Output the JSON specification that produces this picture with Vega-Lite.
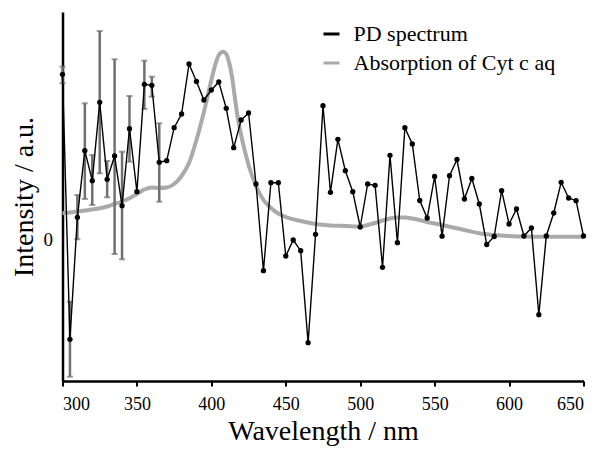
{
  "$schema": "https://vega.github.io/schema/vega-lite/v6.json",
  "autosize": {"type": "none"},
  "width": 521,
  "height": 369,
  "padding": {"left": 62.5, "top": 12, "right": 19.5, "bottom": 68},
  "config": {
    "view": {"stroke": null},
    "font": "Liberation Serif",
    "axis": {"grid": false, "labelFont": "Liberation Serif", "titleFont": "Liberation Serif", "titleFontWeight": "normal", "labelColor": "#000", "titleColor": "#000", "domainColor": "#000", "domainWidth": 2.5, "tickColor": "#000"},
    "legend": {"labelFont": "Liberation Serif"}
  },
  "datasets": {
    "pd": [
      {"wl": 300, "v": 1.65}, {"wl": 305, "v": -1.0}, {"wl": 310, "v": 0.22}, {"wl": 315, "v": 0.886},
      {"wl": 320, "v": 0.586}, {"wl": 325, "v": 1.37}, {"wl": 330, "v": 0.6}, {"wl": 335, "v": 0.833},
      {"wl": 340, "v": 0.336}, {"wl": 345, "v": 1.106}, {"wl": 350, "v": 0.476}, {"wl": 355, "v": 1.55},
      {"wl": 360, "v": 1.54}, {"wl": 365, "v": 0.77}, {"wl": 370, "v": 0.786}, {"wl": 375, "v": 1.116},
      {"wl": 380, "v": 1.253}, {"wl": 385, "v": 1.753}, {"wl": 390, "v": 1.578}, {"wl": 395, "v": 1.393},
      {"wl": 400, "v": 1.493}, {"wl": 405, "v": 1.573}, {"wl": 410, "v": 1.31}, {"wl": 415, "v": 0.916},
      {"wl": 420, "v": 1.193}, {"wl": 425, "v": 1.263}, {"wl": 430, "v": 0.553}, {"wl": 435, "v": -0.314},
      {"wl": 440, "v": 0.566}, {"wl": 445, "v": 0.566}, {"wl": 450, "v": -0.167}, {"wl": 455, "v": -0.007},
      {"wl": 460, "v": -0.114}, {"wl": 465, "v": -1.034}, {"wl": 470, "v": 0.05}, {"wl": 475, "v": 1.336},
      {"wl": 480, "v": 0.47}, {"wl": 485, "v": 1.0}, {"wl": 490, "v": 0.686}, {"wl": 495, "v": 0.476},
      {"wl": 500, "v": 0.123}, {"wl": 505, "v": 0.553}, {"wl": 510, "v": 0.54}, {"wl": 515, "v": -0.28},
      {"wl": 520, "v": 0.84}, {"wl": 525, "v": -0.034}, {"wl": 530, "v": 1.116}, {"wl": 535, "v": 0.953},
      {"wl": 540, "v": 0.388}, {"wl": 545, "v": 0.213}, {"wl": 550, "v": 0.628}, {"wl": 555, "v": 0.031},
      {"wl": 560, "v": 0.636}, {"wl": 565, "v": 0.798}, {"wl": 570, "v": 0.403}, {"wl": 575, "v": 0.608},
      {"wl": 580, "v": 0.353}, {"wl": 585, "v": -0.052}, {"wl": 590, "v": 0.028}, {"wl": 595, "v": 0.486},
      {"wl": 600, "v": 0.153}, {"wl": 605, "v": 0.303}, {"wl": 610, "v": 0.033}, {"wl": 615, "v": 0.113},
      {"wl": 620, "v": -0.754}, {"wl": 625, "v": 0.033}, {"wl": 630, "v": 0.263}, {"wl": 635, "v": 0.57},
      {"wl": 640, "v": 0.413}, {"wl": 645, "v": 0.386}, {"wl": 650, "v": 0.033}
    ],
    "err": [
      {"wl": 300, "lo": 1.56, "hi": 1.726}, {"wl": 305, "lo": -1.374, "hi": -0.624},
      {"wl": 310, "lo": 0.0, "hi": 0.443}, {"wl": 315, "lo": 0.403, "hi": 1.36},
      {"wl": 320, "lo": 0.343, "hi": 0.843}, {"wl": 325, "lo": 0.66, "hi": 2.083},
      {"wl": 330, "lo": 0.42, "hi": 0.783}, {"wl": 335, "lo": -0.147, "hi": 1.8},
      {"wl": 340, "lo": -0.2, "hi": 0.876}, {"wl": 345, "lo": 0.776, "hi": 1.433},
      {"wl": 355, "lo": 1.303, "hi": 1.786}, {"wl": 360, "lo": 1.426, "hi": 1.626},
      {"wl": 365, "lo": 0.376, "hi": 1.16}
    ],
    "abs": [
      {"wl": 300, "v": 0.26}, {"wl": 305, "v": 0.268}, {"wl": 310, "v": 0.278}, {"wl": 315, "v": 0.288},
      {"wl": 320, "v": 0.298}, {"wl": 325, "v": 0.31}, {"wl": 330, "v": 0.328}, {"wl": 335, "v": 0.353},
      {"wl": 340, "v": 0.378}, {"wl": 345, "v": 0.41}, {"wl": 350, "v": 0.453}, {"wl": 355, "v": 0.498},
      {"wl": 360, "v": 0.518}, {"wl": 365, "v": 0.513}, {"wl": 370, "v": 0.518}, {"wl": 375, "v": 0.553},
      {"wl": 380, "v": 0.633}, {"wl": 385, "v": 0.763}, {"wl": 390, "v": 0.993}, {"wl": 395, "v": 1.273},
      {"wl": 400, "v": 1.593}, {"wl": 403, "v": 1.763}, {"wl": 405, "v": 1.843}, {"wl": 408, "v": 1.876},
      {"wl": 410, "v": 1.853}, {"wl": 412, "v": 1.763}, {"wl": 414, "v": 1.613}, {"wl": 416, "v": 1.393},
      {"wl": 418, "v": 1.193}, {"wl": 420, "v": 1.043}, {"wl": 422, "v": 0.913}, {"wl": 425, "v": 0.743},
      {"wl": 430, "v": 0.533}, {"wl": 435, "v": 0.393}, {"wl": 440, "v": 0.313}, {"wl": 445, "v": 0.258},
      {"wl": 450, "v": 0.223}, {"wl": 460, "v": 0.183}, {"wl": 470, "v": 0.153}, {"wl": 480, "v": 0.138},
      {"wl": 490, "v": 0.133}, {"wl": 500, "v": 0.128}, {"wl": 505, "v": 0.143}, {"wl": 510, "v": 0.163},
      {"wl": 515, "v": 0.188}, {"wl": 520, "v": 0.208}, {"wl": 525, "v": 0.218}, {"wl": 530, "v": 0.218},
      {"wl": 535, "v": 0.208}, {"wl": 540, "v": 0.193}, {"wl": 545, "v": 0.173}, {"wl": 550, "v": 0.158},
      {"wl": 555, "v": 0.143}, {"wl": 560, "v": 0.126}, {"wl": 570, "v": 0.093}, {"wl": 580, "v": 0.06},
      {"wl": 590, "v": 0.043}, {"wl": 600, "v": 0.033}, {"wl": 610, "v": 0.028}, {"wl": 620, "v": 0.026},
      {"wl": 650, "v": 0.026}
    ]
  },
  "encoding": {
    "x": {"field": "wl", "type": "quantitative", "scale": {"domain": [300, 650], "nice": false, "zero": false},
      "axis": {"values": [300, 350, 400, 450, 500, 550, 600, 650], "title": "Wavelength / nm", "titleFont": "Liberation Serif", "labelFont": "Liberation Serif", "titleFontSize": 28, "labelFontSize": 18, "tickSize": 5, "tickWidth": 2, "labelPadding": 9, "titlePadding": 4}}
  },
  "layer": [
    {
      "mark": {"type": "rule", "color": "#808080", "strokeWidth": 2.5, "strokeDash": [2.5, 4.9]},
      "encoding": {"y": {"datum": 0, "type": "quantitative"}, "x": null}
    },
    {
      "data": {"name": "abs"},
      "mark": {"type": "line", "strokeWidth": 4, "interpolate": "monotone"},
      "encoding": {
        "y": {"field": "v", "type": "quantitative", "title": "Intensity / a.u.", "scale": {"domain": [-1.417, 2.273], "nice": false, "zero": false},
          "axis": {"values": [0], "format": ".0f", "title": "Intensity / a.u.", "titleFont": "Liberation Serif", "labelFont": "Liberation Serif", "titleFontSize": 28, "labelFontSize": 19, "ticks": false, "labelPadding": 10, "titlePadding": 5}},
        "color": {"datum": "Absorption of Cyt c aq", "type": "nominal",
          "scale": {"domain": ["PD spectrum", "Absorption of Cyt c aq"], "range": ["#000000", "#aaaaaa"]},
          "legend": {"title": null, "orient": "none", "legendX": 258, "legendY": 11, "labelFont": "Liberation Serif", "labelFontSize": 22, "labelLimit": 400, "symbolType": "stroke", "symbolSize": 256, "symbolStrokeWidth": 3, "labelOffset": 11, "rowPadding": 7, "labelColor": "#000"}}
      }
    },
    {
      "data": {"name": "err"},
      "mark": {"type": "errorbar", "color": "#707070", "thickness": 2.5, "ticks": {"size": 6, "thickness": 2}},
      "encoding": {"y": {"field": "lo", "type": "quantitative", "title": "Intensity / a.u."}, "y2": {"field": "hi"}}
    },
    {
      "data": {"name": "pd"},
      "mark": {"type": "line", "strokeWidth": 1.4, "point": {"filled": true, "size": 28, "color": "#000"}},
      "encoding": {
        "y": {"field": "v", "type": "quantitative", "title": "Intensity / a.u."},
        "color": {"datum": "PD spectrum", "type": "nominal"}
      }
    }
  ]
}
